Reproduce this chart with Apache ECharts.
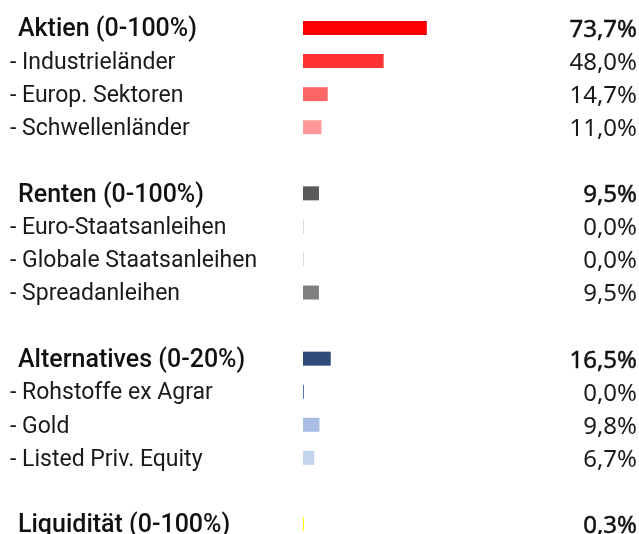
<!DOCTYPE html>
<html>
<head>
    <meta charset="utf-8">
    <title>Allokation</title>
    <script src="https://cdn.jsdelivr.net/npm/echarts@6/dist/echarts.min.js"></script>
    <style>
        html, body { margin: 0; padding: 0; background: #fff; }
    </style>
</head>
<body>
    <div id="main" style="width: 639px;height:534px;"></div>
    <script type="text/javascript">
        // Zeilen (leere Strings = Abstand zwischen Gruppen)
        var labels = [
            'Aktien (0-100%)', '- Industrieländer', '- Europ. Sektoren', '- Schwellenländer', ' ',
            'Renten (0-100%)', '- Euro-Staatsanleihen', '- Globale Staatsanleihen', '- Spreadanleihen', '  ',
            'Alternatives (0-20%)', '- Rohstoffe ex Agrar', '- Gold', '- Listed Priv. Equity', '   ',
            'Liquidität (0-100%)'
        ];
        var values = [73.7, 48.0, 14.7, 11.0, null, 9.5, 0.0, 0.0, 9.5, null, 16.5, 0.0, 9.8, 6.7, null, 0.3];
        var headerRows = [0, 5, 10, 15];
        var barColors = [
            '#ff0000', '#ff3333', '#ff6666', '#ff9999', null,
            '#595959', '#d9d9d9', '#d9d9d9', '#808080', null,
            '#2f4b78', '#5873ad', '#a8bde4', '#c4d4ee', null,
            '#ffff00'
        ];

        var fmt = function (v) {
            return v.toFixed(1).replace('.', ',') + '%';
        };

        var barData = values.map(function (v, i) {
            if (v === null) return '-';
            return { value: v, itemStyle: { color: barColors[i] } };
        });

        var font = 'Roboto, sans-serif';
        var numFont = '"Noto Sans", sans-serif';
        // padding oben schiebt den Text ~2px nach unten
        var rich = {
            h: { fontFamily: font, fontSize: 25, fontWeight: 500, color: '#111', padding: [4, 0, 0, 8] },
            s: { fontFamily: font, fontSize: 23, color: '#1a1a1a', padding: [4, 0, 0, 0] },
            hv: { fontFamily: numFont, fontSize: 24, color: '#111', textBorderColor: '#111', textBorderWidth: 0.5, padding: [4, 0, 0, 0] },
            sv: { fontFamily: numFont, fontSize: 24, color: '#1a1a1a', padding: [4, 0, 0, 0] }
        };

        var myChart = echarts.init(document.getElementById('main'));
        myChart.setOption({
            animation: false,
            grid: {
                left: 303,
                width: 168,
                top: 11.5,
                height: 529,
                containLabel: false,
                outerBoundsMode: 'none'
            },
            xAxis: {
                type: 'value',
                min: 0,
                max: 100,
                show: false
            },
            yAxis: [
                {
                    type: 'category',
                    data: labels,
                    inverse: true,
                    position: 'left',
                    axisLine: { show: false },
                    axisTick: { show: false },
                    splitLine: { show: false },
                    axisLabel: {
                        align: 'left',
                        margin: 293,
                        interval: 0,
                        formatter: function (value, index) {
                            if (!value.trim()) return '';
                            return headerRows.indexOf(index) >= 0 ? '{h|' + value + '}' : '{s|' + value + '}';
                        },
                        rich: rich
                    }
                },
                {
                    type: 'category',
                    data: labels,
                    inverse: true,
                    position: 'right',
                    axisLine: { show: false },
                    axisTick: { show: false },
                    splitLine: { show: false },
                    axisLabel: {
                        align: 'right',
                        margin: 166,
                        interval: 0,
                        formatter: function (value, index) {
                            var v = values[index];
                            if (v === null) return '';
                            return headerRows.indexOf(index) >= 0 ? '{hv|' + fmt(v) + '}' : '{sv|' + fmt(v) + '}';
                        },
                        rich: rich
                    }
                }
            ],
            series: [
                {
                    type: 'bar',
                    yAxisIndex: 0,
                    data: barData,
                    barWidth: 14,
                    barMinHeight: 1,
                    silent: true
                }
            ]
        });
    </script>
</body>
</html>
